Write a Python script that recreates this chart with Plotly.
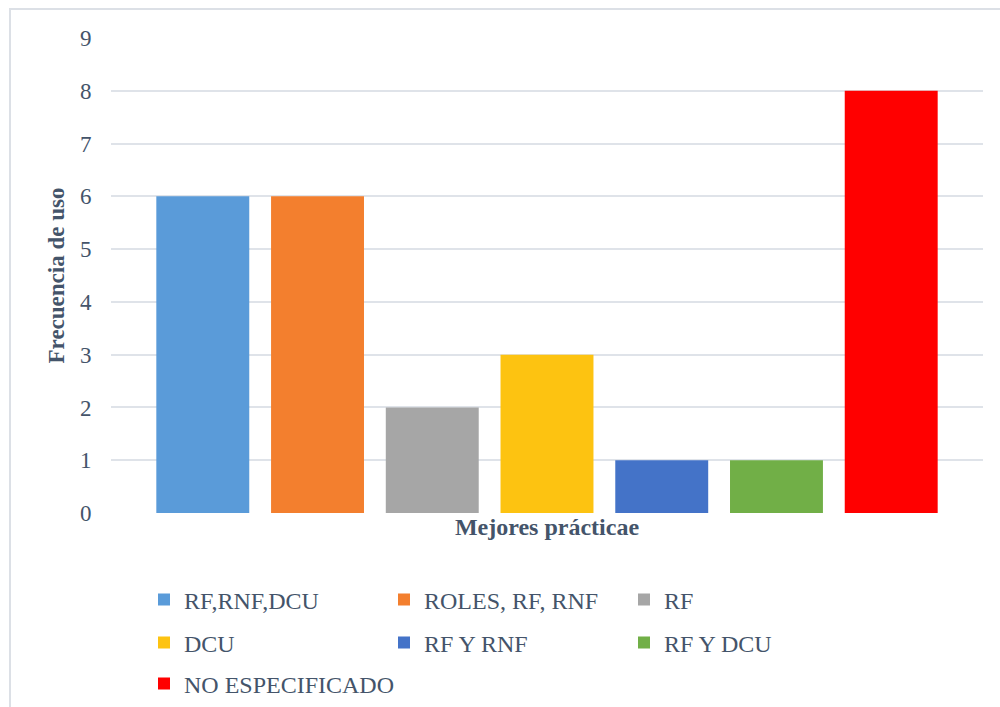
import plotly.graph_objects as go

# Datos: frecuencia de uso por mejor práctica
categorias = ["RF,RNF,DCU", "ROLES, RF, RNF", "RF", "DCU", "RF Y RNF", "RF Y DCU", "NO ESPECIFICADO"]
frecuencias = [6, 6, 2, 3, 1, 1, 8]
colores = ["#5A9BD9", "#F37F2E", "#A6A6A6", "#FDC311", "#4473C8", "#71AF47", "#FF0000"]
filas_leyenda = ["legend", "legend", "legend", "legend2", "legend2", "legend2", "legend3"]
ticks_y = [0, 1, 2, 3, 4, 5, 6, 7, 8, 9]

TEXTO = "#44546A"
FUENTE = "Liberation Serif"
W, H = 1000, 707
ML, MR, MT, MB = 111, 17, 38, 194
PW, PH = W - ML - MR, H - MT - MB


def px_x(p):
    return (p - ML) / PW


def px_y(p):
    return (H - MB - p) / PH


fig = go.Figure()
for cat, val, col, leg in zip(categorias, frecuencias, colores, filas_leyenda):
    fig.add_trace(go.Bar(
        x=[cat], y=[val], name=cat, width=0.81,
        marker=dict(color=col, line=dict(width=0)),
        legend=leg, hoverinfo="skip",
    ))

leyenda_base = dict(
    orientation="h", xanchor="left", yanchor="middle",
    x=px_x(144), entrywidth=195, entrywidthmode="pixels",
    font=dict(family=FUENTE, size=24, color=TEXTO),
    bgcolor="rgba(0,0,0,0)", itemwidth=30,
)
leyenda_ultima = {k: v for k, v in leyenda_base.items() if k not in ("entrywidth", "entrywidthmode")}

fig.update_layout(
    width=W, height=H,
    margin=dict(l=ML, r=MR, t=MT, b=MB, autoexpand=False),
    paper_bgcolor="white", plot_bgcolor="white",
    barmode="overlay",
    showlegend=True,
    legend=dict(leyenda_base, y=px_y(600)),
    legend2=dict(leyenda_base, y=px_y(643)),
    legend3=dict(leyenda_ultima, y=px_y(684)),
    xaxis=dict(
        type="category", categoryorder="array", categoryarray=categorias,
        range=[-0.8, 6.8], showticklabels=False, showgrid=False,
        showline=False, zeroline=False, ticks="",
        title=dict(text="<b>Mejores prácticae</b>", standoff=5,
                   font=dict(family=FUENTE, size=24, color=TEXTO)),
    ),
    yaxis=dict(
        range=[0, 9], tickvals=ticks_y, showgrid=True,
        gridcolor="#DFE3E9", gridwidth=2, zeroline=False, showline=False,
        ticks="outside", ticklen=14, tickcolor="rgba(0,0,0,0)",
        tickfont=dict(family=FUENTE, size=23, color=TEXTO),
        title=dict(text="<b>Frecuencia de uso</b>", standoff=8,
                   font=dict(family=FUENTE, size=23, color=TEXTO)),
    ),
    shapes=[dict(
        type="rect", xref="paper", yref="paper",
        x0=px_x(10), x1=px_x(1012), y0=px_y(720), y1=px_y(9),
        line=dict(color="#DCE0E6", width=2), fillcolor="rgba(0,0,0,0)",
        layer="below",
    )],
)

fig.write_html("out.html")
